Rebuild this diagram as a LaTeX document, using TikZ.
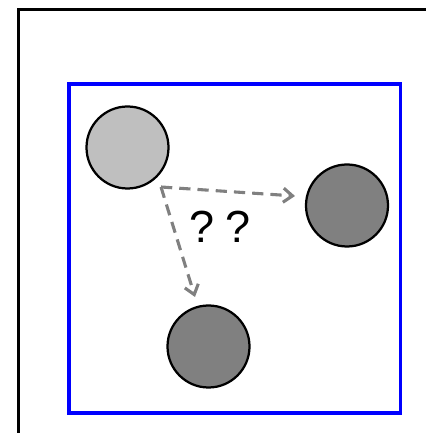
\documentclass[tikz,border=0pt]{standalone}
\usepackage{fontspec}
\setsansfont{Liberation Sans}
\usetikzlibrary{arrows.meta}

\tikzset{
  ball/.style={circle, draw=black, line width=1.6pt, minimum size=2.05cm, inner sep=0},
  guess arrow/.style={-{Straight Barb[length=6.5pt,width=10pt]}, gray,
                      line width=2.2pt, dash pattern=on 8pt off 5pt},
}
\colorlet{lightball}{gray!50}
\colorlet{darkball}{gray}

\begin{document}
\begin{tikzpicture}
    % canvas 10.65 x 10.825 (1px = 0.025cm)
    \useasboundingbox (0,0) rectangle (10.65,10.825);

    % outer frame (only top and left edge visible)
    \draw[line width=2.1pt] (0.4625,0) -- (0.4625,10.5875) -- (10.65,10.5875);

    % blue box
    \draw[blue, line width=2.6pt] (1.725,0.5) rectangle (10.0125,8.725);

    % === balls ===
    \node[ball, fill=lightball] (src) at (3.1875,7.1375) {};
    \node[ball, fill=darkball]  (dstA) at (8.675,5.6875) {};
    \node[ball, fill=darkball]  (dstB) at (5.2125,2.1625) {};

    % === guesses ===
    \coordinate (from) at (4.025,6.15);
    \coordinate (toA) at (7.375,5.925);
    \coordinate (toB) at (4.875,3.40);
    \draw[guess arrow] (from) -- (toA);
    \draw[guess arrow] (from) -- (toB);

    \node[font=\sffamily\fontsize{32}{36}\selectfont] (ask) at (5.5,5.15) {?\hspace{0.25em}?};
\end{tikzpicture}
\end{document}
